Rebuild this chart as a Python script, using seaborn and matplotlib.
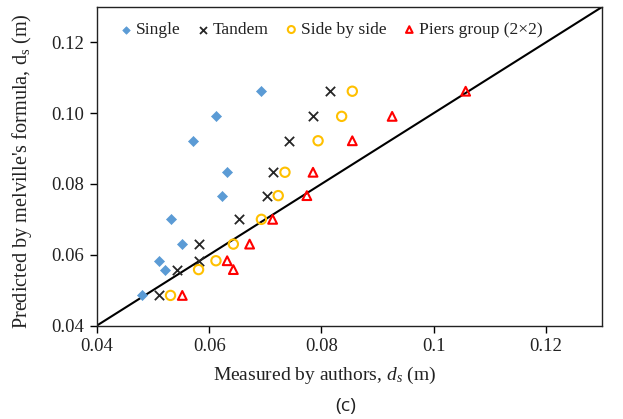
import matplotlib
matplotlib.use("Agg")
import matplotlib.pyplot as plt
import seaborn as sns
import pandas as pd

# ---- data ----
predicted = [0.1062, 0.0991, 0.0922, 0.0833, 0.0767, 0.0700, 0.0630, 0.0583, 0.0558, 0.0485]
single_x = [0.0693, 0.0612, 0.0571, 0.0632, 0.0623, 0.0531, 0.0552, 0.0511, 0.0521, 0.0480]
tandem_x = [0.0816, 0.0785, 0.0743, 0.0713, 0.0703, 0.0653, 0.0581, 0.0582, 0.0542, 0.0511]
side_x = [0.0855, 0.0836, 0.0794, 0.0735, 0.0723, 0.0693, 0.0643, 0.0612, 0.0581, 0.0531]
group_x = [0.1057, 0.0926, 0.0855, 0.0785, 0.0774, 0.0713, 0.0672, 0.0632, 0.0643, 0.0552]
series_names = ["Single", "Tandem", "Side by side", "Piers group (2\u00d72)"]
line_xy = [0.04, 0.13]
xticks = [0.04, 0.06, 0.08, 0.10, 0.12]
xtick_labels = ["0.04", "0.06", "0.08", "0.1", "0.12"]
yticks = [0.04, 0.06, 0.08, 0.10, 0.12]
ytick_labels = ["0.04", "0.06", "0.08", "0.10", "0.12"]

sns.set_style("ticks")
plt.rcParams["font.family"] = ["Liberation Serif", "DejaVu Serif"]
plt.rcParams["mathtext.fontset"] = "custom"
plt.rcParams["mathtext.rm"] = "Liberation Serif"
plt.rcParams["mathtext.it"] = "Liberation Serif:italic"

fig = plt.figure(figsize=(6.23, 4.19), dpi=100)
ax = fig.add_axes([97 / 623, 1 - 325.5 / 419, (602 - 97) / 623, (325.5 - 7) / 419])

frames = []
for name, xs in zip(series_names, [single_x, tandem_x, side_x, group_x]):
    frames.append(pd.DataFrame({"measured": xs, "predicted": predicted, "series": name}))
df = pd.concat(frames, ignore_index=True)

styles = {
    "Single": dict(marker="D", s=26, color="#5B9BD5", edgecolor="#5B9BD5", linewidth=0.5),
    "Tandem": dict(marker="x", s=45, color="#262626", linewidth=1.3),
    "Side by side": dict(marker="o", s=45, facecolor="none", edgecolor="#FFC000", linewidth=1.5),
    "Piers group (2\u00d72)": dict(marker="^", s=40, facecolor="none", edgecolor="#FF0000", linewidth=1.5),
}
for name in series_names:
    sub = df[df["series"] == name]
    sns.scatterplot(data=sub, x="measured", y="predicted", ax=ax, label=name, zorder=3, **styles[name])

ax.plot(line_xy, line_xy, color="black", linewidth=1.5, zorder=2)

ax.set_xlim(0.04, 0.13)
ax.set_ylim(0.04, 0.13)
ax.set_xticks(xticks)
ax.set_xticklabels(xtick_labels)
ax.set_yticks(yticks)
ax.set_yticklabels(ytick_labels)
ax.tick_params(axis="both", direction="out", length=5, width=1, labelsize=13.5, color="black", labelcolor="#222222", pad=4)
for sp in ax.spines.values():
    sp.set_visible(True)
    sp.set_color("#222222")
    sp.set_linewidth(1.0)

ax.set_xlabel("")
ax.set_ylabel("")
fig.text(325 / 623, 1 - 375 / 419, r"Measured by authors, $d_s$ (m)", ha="center", va="center",
         fontsize=14, color="#222222")
fig.text(22.5 / 623, 1 - 171.5 / 419, r"Predicted by melville's formula, d$_\mathrm{s}$ (m)", ha="center", va="center",
         rotation=90, fontsize=14.6, color="#222222")
fig.text(346 / 623, 1 - 406 / 419, "(c)", ha="center", va="center", fontsize=14,
         family=["Open Sans", "DejaVu Sans"], color="#222222")

leg = ax.legend(loc="upper center", ncol=4, frameon=False, fontsize=12.6,
                handletextpad=0.1, columnspacing=0.85, handlelength=0.9, markerscale=0.75,
                borderaxespad=0.45, bbox_to_anchor=(0.462, 1.0))
for t in leg.get_texts():
    t.set_color("#222222")

fig.savefig("out.png", dpi=100)
